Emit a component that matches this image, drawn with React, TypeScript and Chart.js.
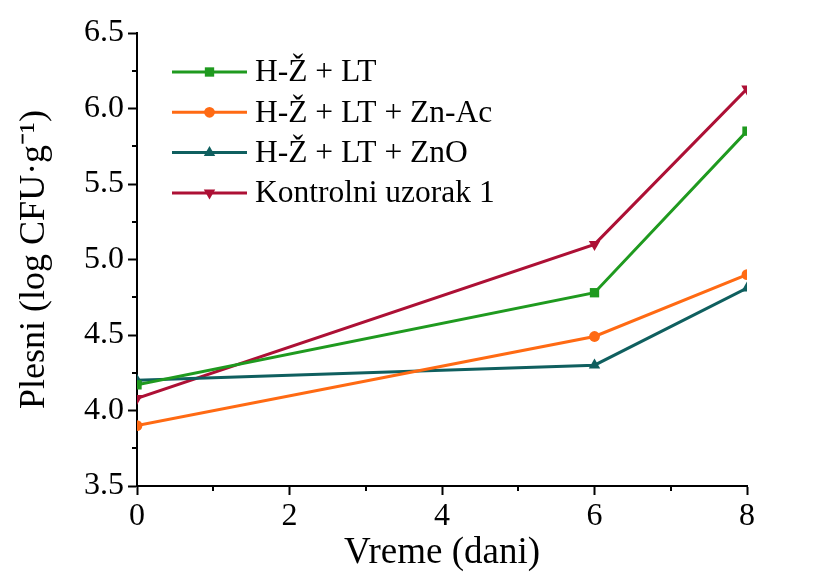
import React, { useEffect, useRef } from "react";
import { Chart, registerables } from "chart.js";

Chart.register(...registerables);

const days = [0, 6, 8];
const seriesLabels = ["H-Ž + LT", "H-Ž + LT + Zn-Ac", "H-Ž + LT + ZnO", "Kontrolni uzorak 1"];
const hzLt = [4.17, 4.78, 5.85];
const hzLtZnAc = [3.9, 4.49, 4.9];
const hzLtZnO = [4.2, 4.3, 4.81];
const kontrolni = [4.08, 5.1, 6.13];
const xTicks = [0, 2, 4, 6, 8];
const xMinorTicks = [1, 3, 5, 7];
const yTicks = [3.5, 4.0, 4.5, 5.0, 5.5, 6.0, 6.5];
const yMinorTicks = [3.75, 4.25, 4.75, 5.25, 5.75, 6.25];

const FONT = '"Liberation Serif", "Times New Roman", serif';
const colors = ["#1f9a1f", "#ff6a13", "#0f5f5f", "#ad1035"];
const pointStyles = ["rect", "circle", "triangle", "triangle"];
const pointRotations = [0, 0, 0, 180];
const pointRadii = [6.6, 5.4, 6.6, 6.6];

function drawMarker(ctx: CanvasRenderingContext2D, style: string, rot: number, r: number, x: number, y: number, color: string) {
  ctx.save();
  ctx.fillStyle = color;
  ctx.beginPath();
  if (style === "rect") {
    const s = Math.SQRT1_2 * r;
    ctx.rect(x - s, y - s, 2 * s, 2 * s);
  } else if (style === "circle") {
    ctx.arc(x, y, r, 0, Math.PI * 2);
  } else {
    let rad = (rot * Math.PI) / 180;
    ctx.moveTo(x + Math.sin(rad) * r, y - Math.cos(rad) * r);
    rad += (2 * Math.PI) / 3;
    ctx.lineTo(x + Math.sin(rad) * r, y - Math.cos(rad) * r);
    rad += (2 * Math.PI) / 3;
    ctx.lineTo(x + Math.sin(rad) * r, y - Math.cos(rad) * r);
    ctx.closePath();
  }
  ctx.fill();
  ctx.restore();
}

const minorTicksPlugin = {
  id: "minorTicks",
  afterDraw(chart: any) {
    const ctx = chart.ctx;
    const xs = chart.scales.x;
    const ys = chart.scales.y;
    ctx.save();
    ctx.strokeStyle = "#000";
    ctx.lineWidth = 2;
    yMinorTicks.forEach((v) => {
      const py = Math.round(ys.getPixelForValue(v));
      ctx.beginPath();
      ctx.moveTo(chart.chartArea.left, py);
      ctx.lineTo(chart.chartArea.left - 5, py);
      ctx.stroke();
    });
    xMinorTicks.forEach((v) => {
      const px = Math.round(xs.getPixelForValue(v));
      ctx.beginPath();
      ctx.moveTo(px, chart.chartArea.bottom);
      ctx.lineTo(px, chart.chartArea.bottom + 5);
      ctx.stroke();
    });
    ctx.restore();
  },
};

const legendPlugin = {
  id: "customLegend",
  afterDatasetsDraw(chart: any) {
    const ctx = chart.ctx;
    ctx.save();
    chart.data.datasets.forEach((ds: any, i: number) => {
      const y = 72 + i * 40.3;
      ctx.strokeStyle = ds.borderColor;
      ctx.lineWidth = 3;
      ctx.beginPath();
      ctx.moveTo(172, y);
      ctx.lineTo(247, y);
      ctx.stroke();
      drawMarker(ctx, pointStyles[i], pointRotations[i], pointRadii[i], 209.5, y, ds.borderColor);
      ctx.fillStyle = "#000";
      ctx.font = `31.5px ${FONT}`;
      ctx.textBaseline = "middle";
      ctx.textAlign = "left";
      ctx.fillText(ds.label, 255, y + 1);
    });
    ctx.restore();
  },
};

export default function App() {
  const ref = useRef<HTMLCanvasElement | null>(null);
  useEffect(() => {
    if (!ref.current) return;
    const all = [hzLt, hzLtZnAc, hzLtZnO, kontrolni];
    const chart = new Chart(ref.current, {
      type: "line",
      data: {
        datasets: all.map((vals, i) => ({
          label: seriesLabels[i],
          data: days.map((d, j) => ({ x: d, y: vals[j] })),
          borderColor: colors[i],
          backgroundColor: colors[i],
          borderWidth: 3,
          pointStyle: pointStyles[i] as any,
          rotation: pointRotations[i],
          pointRadius: pointRadii[i],
          pointBorderWidth: 0,
          tension: 0,
          clip: 0,
        })),
      },
      options: {
        responsive: false,
        animation: false,
        layout: { padding: { left: 0, right: 68, top: 33, bottom: 0 } },
        plugins: { legend: { display: false }, tooltip: { enabled: false } },
        scales: {
          x: {
            type: "linear",
            min: 0,
            max: 8,
            afterBuildTicks: (s: any) => {
              s.ticks = xTicks.map((v) => ({ value: v }));
            },
            afterFit: (s: any) => {
              s.height = 91;
            },
            ticks: { color: "#000", font: { family: FONT, size: 32 }, padding: 2, maxRotation: 0 },
            grid: { drawOnChartArea: false, tickLength: 9, tickColor: "#000", tickWidth: 2 },
            border: { display: true, color: "#000", width: 2 },
            title: {
              display: true,
              text: "Vreme (dani)",
              color: "#000",
              font: { family: FONT, size: 37 },
              padding: { top: 0, bottom: 2 },
            },
          },
          y: {
            type: "linear",
            min: 3.5,
            max: 6.5,
            afterBuildTicks: (s: any) => {
              s.ticks = yTicks.map((v) => ({ value: v }));
            },
            afterFit: (s: any) => {
              s.width = 137;
            },
            ticks: {
              color: "#000",
              font: { family: FONT, size: 32 },
              padding: 4,
              callback: (v: any) => Number(v).toFixed(1),
            },
            grid: { drawOnChartArea: false, tickLength: 9, tickColor: "#000", tickWidth: 2 },
            border: { display: true, color: "#000", width: 2 },
            title: {
              display: true,
              text: "Plesni (log CFU·g⁻¹)",
              color: "#000",
              font: { family: FONT, size: 36 },
              padding: { top: 13, bottom: 0 },
            },
          },
        },
      },
      plugins: [minorTicksPlugin, legendPlugin],
    });
    return () => chart.destroy();
  }, []);
  return (
    <div style={{ position: "fixed", left: 0, top: 0, width: 815, height: 577, background: "#fff" }}>
      <canvas ref={ref} width={815} height={577} />
    </div>
  );
}
